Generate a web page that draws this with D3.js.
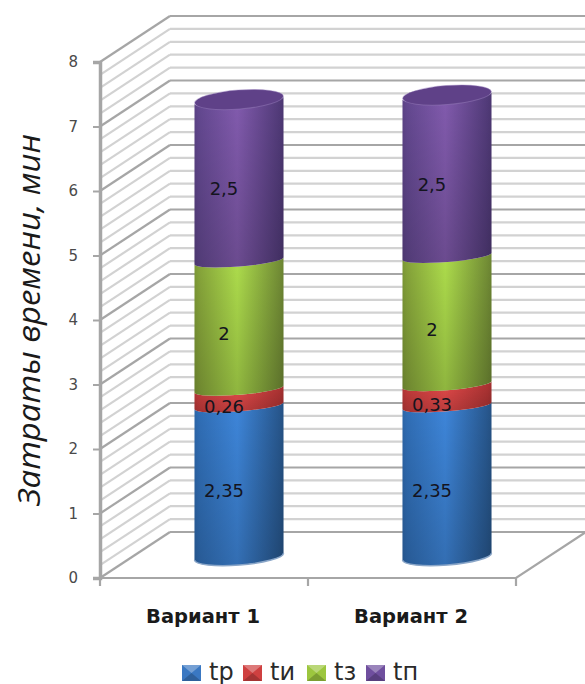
<!DOCTYPE html>
<html>
<head>
<meta charset="utf-8">
<script src="https://cdn.jsdelivr.net/npm/d3@7"></script>
<style>
html,body{margin:0;padding:0;background:#fff}
svg{display:block}
text{font-family:"DejaVu Sans",sans-serif;fill:#1a1a1a}
</style>
</head>
<body>
<svg id="chart" width="585" height="684"></svg>
<script>
// Stacked cylinders: time spent per variant
const categories = ["Вариант 1", "Вариант 2"];
const seriesNames = ["tр", "tи", "tз", "tп"];
const tpValues = [2.35, 2.35];
const tiValues = [0.26, 0.33];
const tzValues = [2, 2];
const tnValues = [2.5, 2.5];
const seriesValues = [tpValues, tiValues, tzValues, tnValues];
const valueLabels = [["2,35", "2,35"], ["0,26", "0,33"], ["2", "2"], ["2,5", "2,5"]];
const yTicks = [0, 1, 2, 3, 4, 5, 6, 7, 8];
const yMinorTicks = d3.range(0, 41).map(i => i / 5);
const axisTitle = "Затраты времени, мин";

// colours per series: left side, lit middle, right side, lower rim, legend tone
const palette = [
  {left: "#306eb6", mid: "#3e86da", right: "#28588f", rim: "#8aa6c8", key: "#3a78c2"},
  {left: "#c63c3c", mid: "#e44a4a", right: "#b03434", rim: "#d98080", key: "#cf4040"},
  {left: "#86a43a", mid: "#aedd4c", right: "#748f36", rim: "#c0dc80", key: "#9cc63e"},
  {left: "#634890", mid: "#825bae", right: "#523b7a", rim: "#9d85c0", key: "#6f4f9e"}
];

const svg = d3.select("#chart");
const defs = svg.append("defs");

const x = d3.scaleBand().domain(categories).range([100, 516]);
const y = d3.scaleLinear().domain([0, 8]).range([578, 62]);
// cylinder axis stands mid-way into the floor, on its own slightly compressed scale
const barY = d3.scaleLinear().domain([0, 8]).range([556.5, 43.5]);
const depthX = 70, depthY = -46;
// projection onto the floor depth: 0 = front, 1 = back wall
const px = (c, d) => x(c) + x.bandwidth() / 2 + depthX * d;
const py = (v, d) => y(v) + depthY * d;

const major = "#a6a6a6", minor = "#d2d2d2";
const grid = svg.append("g").attr("fill", "none");

// side wall and back wall rules
yMinorTicks.forEach(v => {
  const isMajor = Number.isInteger(v);
  const g = grid.append("g").attr("stroke", isMajor ? major : minor).attr("stroke-width", 2.2);
  g.append("line").attr("x1", x.range()[0]).attr("y1", y(v))
    .attr("x2", x.range()[0] + depthX).attr("y2", y(v) + depthY);
  g.append("line").attr("x1", x.range()[0] + depthX).attr("y1", y(v) + depthY)
    .attr("x2", x.range()[1] + depthX).attr("y2", y(v) + depthY);
});

// floor edges
grid.append("path")
  .attr("d", `M${x.range()[0]},${y(0)}H${x.range()[1]}L${x.range()[1] + depthX},${y(0) + depthY}`)
  .attr("stroke", major).attr("stroke-width", 2.2);

// value axis with ticks on the left
const yAxis = svg.append("g").attr("transform", `translate(${x.range()[0]},0)`)
  .call(d3.axisLeft(y).tickValues(yTicks).tickSize(7).tickPadding(15));
yAxis.select(".domain").attr("stroke", major).attr("stroke-width", 3.5);
yAxis.selectAll(".tick line").attr("stroke", major).attr("stroke-width", 2);
yAxis.selectAll(".tick text").attr("font-size", 15).attr("font-family", '"DejaVu Sans",sans-serif')
  .style("fill", "#4a4a4a");

// category boundary ticks below the floor
[x.range()[0], x(categories[1]), x.range()[1]].forEach(t => {
  svg.append("line").attr("x1", t).attr("x2", t).attr("y1", y(0)).attr("y2", y(0) + 8)
    .attr("stroke", major).attr("stroke-width", 2.2);
});

// horizontal shading across a cylinder
palette.forEach((p, i) => {
  const g = defs.append("linearGradient").attr("id", "body" + i);
  [[0, d3.color(p.left).darker(0.2)], [0.05, p.left], [0.48, p.mid], [0.95, p.right], [1, d3.color(p.right).darker(0.2)]]
    .forEach(s => g.append("stop").attr("offset", s[0]).attr("stop-color", s[1]));
});
// darkening from top to bottom of each section
const shade = defs.append("linearGradient").attr("id", "shade").attr("x1", 0).attr("y1", 0).attr("x2", 0).attr("y2", 1);
shade.append("stop").attr("offset", 0).attr("stop-color", "#000").attr("stop-opacity", 0);
shade.append("stop").attr("offset", 1).attr("stop-color", "#000").attr("stop-opacity", 0.18);

const halfWidth = 44.5, depthMid = 0.5, tilt = -4.5;
const ryBottom = 8.5, ryInner = 5.5, ryCap = 9.5;
const tiltDy = halfWidth * Math.sin(tilt * Math.PI / 180);

const lowerArc = (cx, yy, ry) =>
  `M${cx + halfWidth},${yy + tiltDy}A${halfWidth},${ry} ${tilt} 0 1 ${cx - halfWidth},${yy - tiltDy}`;

// one stacked section: top arc and bottom arc both bulge downward
function sectionPath(cx, yTop, yBot, ryTop, ryBot) {
  const lx = cx - halfWidth, rx = cx + halfWidth;
  return `M${lx},${yTop - tiltDy}` +
    `A${halfWidth},${ryTop} ${tilt} 0 0 ${rx},${yTop + tiltDy}` +
    `L${rx},${yBot + tiltDy}` +
    `A${halfWidth},${ryBot} ${tilt} 0 1 ${lx},${yBot - tiltDy}Z`;
}

const bars = svg.append("g");
categories.forEach((cat, ci) => {
  const cx = px(cat, depthMid);
  const stack = d3.stack().keys(d3.range(seriesValues.length))
    .value((d, k) => seriesValues[k][d])([ci])
    .map(s => s[0]);
  stack.forEach((seg, si) => {
    const yb = barY(seg[0]), yt = barY(seg[1]);
    const ryB = si === 0 ? ryBottom : ryInner;
    const d = sectionPath(cx, yt, yb, ryInner, ryB);
    bars.append("path").attr("d", d).attr("fill", `url(#body${si})`);
    bars.append("path").attr("d", d).attr("fill", "url(#shade)");
    if (si === 0) {
      bars.append("path").attr("d", lowerArc(cx, yb, ryB)).attr("fill", "none")
        .attr("stroke", palette[si].rim).attr("stroke-width", 1.5);
    }
  });
  // lid of the top section
  const top = stack[stack.length - 1][1];
  const lidY = barY(top) - 1;
  bars.append("ellipse").attr("cx", cx).attr("cy", lidY)
    .attr("rx", halfWidth).attr("ry", ryCap)
    .attr("transform", `rotate(${tilt} ${cx} ${lidY})`)
    .attr("fill", "#5f4188").attr("stroke", palette[3].rim).attr("stroke-opacity", 0.45);
});

// value labels sit a quarter of the way into the floor depth
const labelDepth = 0.25;
categories.forEach((cat, ci) => {
  let base = 0;
  seriesValues.forEach((vals, si) => {
    const mid = base + vals[ci] / 2;
    base += vals[ci];
    svg.append("text").attr("x", px(cat, labelDepth) + 2.5).attr("y", py(mid, labelDepth))
      .attr("text-anchor", "middle").attr("dominant-baseline", "central")
      .attr("font-size", 18).style("fill", "#14141e").text(valueLabels[si][ci]);
  });
});

// category labels
categories.forEach(cat => {
  svg.append("text").attr("x", x(cat) + x.bandwidth() / 2 - 1).attr("y", 623)
    .attr("text-anchor", "middle").attr("font-size", 19.5).attr("font-weight", "bold")
    .text(cat);
});

// axis title
svg.append("text").attr("transform", "translate(40,320) rotate(-90)")
  .attr("text-anchor", "middle").attr("font-size", 31).attr("font-style", "italic")
  .attr("textLength", 372).attr("lengthAdjust", "spacingAndGlyphs")
  .style("font-family", '"Open Sans",sans-serif').text(axisTitle);

// legend
const legendX = [182, 243, 307, 366];
seriesNames.forEach((name, i) => {
  const g = svg.append("g").attr("transform", `translate(${legendX[i]},665)`);
  g.append("rect").attr("width", 19).attr("height", 16).attr("fill", palette[i].key);
  g.append("path").attr("d", "M0,0L9.5,8L19,0Z").attr("fill", "#fff").attr("opacity", 0.3);
  g.append("path").attr("d", "M0,16L9.5,8L19,16Z").attr("fill", "#000").attr("opacity", 0.2);
  g.append("text").attr("x", 27).attr("y", 14.5).attr("font-size", 24).style("fill", "#2a2a2a").text(name);
});
</script>
</body>
</html>
